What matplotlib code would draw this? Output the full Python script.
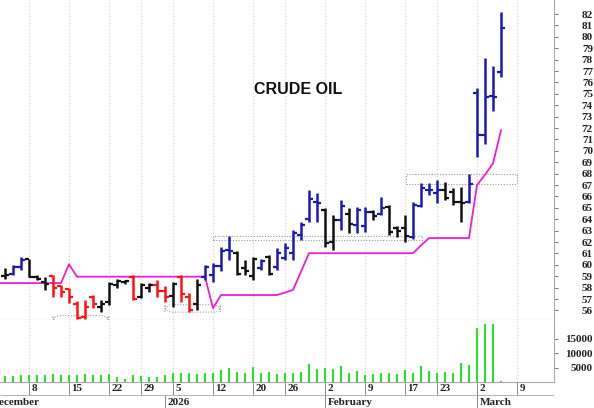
import matplotlib
matplotlib.use("Agg")
import matplotlib.pyplot as plt
import numpy as np
from matplotlib.patches import Rectangle, FancyBboxPatch

# ---------------- data (trading-day index, 0 = Mon 8 Dec 2025) ----------------
days = list(range(-4, 60))
nan = float("nan")
opens = [nan, 59.0, 59.2, 59.8, 60.5, 58.95, 58.5, 59.0, 58.1, 57.9, 56.6, 55.4, 57.2, 56.3,
         56.7, 58.2, 58.45, 58.9, 57.2, 58.0, 58.2, 57.7, 57.3, 58.9, 57.2, 56.6, 58.9, 59.1,
         59.9, 61.3, 61.0, 59.7, 59.0, 59.7, 60.7, 59.8, 60.6, 61.0, 62.6, 64.0, 65.5, 64.8,
         62.0, 63.9, 64.5, 63.5, 63.4, 64.66, 64.5, 65.1, 63.2, 63.2, 62.45, 65.15, 66.6, 66.3,
         66.55, 66.4, 65.55, 65.55, 75.1, 71.4, 74.8, 76.9]
highs = [nan, 59.7, 60.0, 60.7, 60.55, 59.1, 58.95, 59.1, 58.25, 57.95, 56.8, 56.9, 57.35, 56.9,
         58.45, 58.8, 58.7, 59.1, 58.4, 58.4, 58.65, 58.1, 58.5, 59.1, 57.5, 58.8, 60.0, 60.15,
         61.6, 62.5, 61.25, 60.4, 60.7, 60.55, 60.85, 61.45, 61.9, 63.05, 63.8, 66.6, 66.3, 64.95,
         64.35, 65.7, 64.95, 65.1, 65.1, 64.8, 65.95, 65.25, 63.4, 64.35, 65.55, 67.15, 67.15, 67.45,
         67.3, 66.7, 66.85, 68.0, 75.55, 78.15, 77.4, 82.2]
lows = [nan, 58.75, 59.1, 59.55, 58.9, 58.7, 57.8, 57.2, 57.2, 56.65, 55.22, 55.22, 56.2, 55.9,
        56.5, 57.95, 58.3, 56.9, 57.05, 57.65, 57.2, 56.75, 56.3, 56.75, 55.9, 56.05, 58.7, 58.5,
        59.5, 60.4, 59.1, 59.1, 58.7, 59.55, 59.1, 59.55, 60.4, 60.4, 62.2, 63.8, 63.8, 61.6,
        61.3, 63.05, 62.75, 62.75, 62.9, 63.93, 64.37, 62.6, 62.45, 62.0, 62.3, 65.1, 66.1, 65.4,
        65.7, 65.25, 63.8, 65.4, 69.5, 70.6, 73.45, 76.45]
closes = [nan, 59.1, 59.85, 60.4, 58.95, 58.8, 58.3, 58.0, 57.6, 57.2, 55.3, 56.3, 56.6, 56.6,
          58.3, 58.6, 58.55, 57.0, 58.25, 58.2, 57.7, 57.2, 58.3, 57.4, 56.0, 58.2, 59.8, 59.9,
          61.2, 61.2, 59.2, 59.5, 60.5, 60.3, 59.2, 61.0, 61.5, 62.8, 63.5, 65.8, 65.4, 61.95,
          63.9, 65.2, 63.6, 64.8, 64.6, 64.3, 65.0, 62.9, 63.0, 62.5, 65.25, 66.7, 66.6, 66.55,
          65.85, 65.55, 65.4, 67.1, 71.4, 74.75, 74.7, 80.75]
trend = ["k", "k", "b", "b", "k", "k", "k", "r", "r", "r", "r", "r", "r", "k",
         "k", "k", "k", "r", "k", "k", "r", "r", "k", "r", "r", "k", "b", "b",
         "b", "b", "k", "k", "k", "b", "k", "b", "b", "b", "b", "b", "b", "k",
         "k", "b", "k", "b", "b", "k", "b", "k", "k", "k", "b", "b", "b", "b",
         "k", "k", "k", "b", "b", "b", "b", "b"]
stop_line = [58.4, 58.4, 58.4, 58.4, 58.4, 58.4, 58.4, 58.4, 58.4, 60.05, 58.96, 58.96, 58.96, 58.96,
             58.96, 58.96, 58.96, 58.96, 58.96, 58.96, 58.96, 58.96, 58.96, 58.96, 58.96, 58.96, 58.96, 56.2,
             57.35, 57.35, 57.35, 57.35, 57.35, 57.35, 57.35, 57.35, 57.57, 57.8, 59.4, 61.02, 61.02, 61.02,
             61.02, 61.02, 61.02, 61.02, 61.02, 61.02, 61.02, 61.02, 61.02, 61.02, 61.02, 61.7, 62.35, 62.35,
             62.35, 62.35, 62.35, 62.35, 67.0, 67.9, 68.9, 71.8]
volume = [nan, 1950, 1950, 2300, 2300, 2300, 2530, 2870, 2300, 2300, 2300, 2870, 2530, 2300,
          2870, 1720, 1150, 2300, 1950, 1720, 1800, 2300, 3100, 3100, 3200, 2700, 3200, 3150,
          4300, 5000, 3500, 3100, 5170, 3220, 3560, 2760, 3220, 3220, 3330, 6320, 4600, 4710,
          4600, 5520, 3220, 3790, 2530, 2870, 3220, 3220, 2870, 4100, 3100, 5630, 3790, 2990,
          3450, 3100, 6550, 5750, 18600, 19900, 19900, 250]

week_starts = [0, 5, 10, 14, 18, 23, 28, 32, 37, 42, 47, 51, 56, 61]
week_labels = ["8", "15", "22", "29", "5", "12", "20", "26", "2", "9", "17", "23", "2", "9"]
month_starts = [-5, 17, 37, 56]
month_labels = ["December", "2026", "February", "March"]

# dotted range boxes: (day from, day to, price low, price high)
flat_boxes = [(23.0, 49.1, 62.15, 62.57), (47.1, 61.0, 67.08, 67.98)]
round_boxes = [(3.0, 9.9, 54.9, 55.55), (17.0, 23.9, 55.85, 56.5)]

colors = {"k": "#111111", "b": "#1a1ab4", "r": "#ff1111"}

# ---------------- layout ----------------
W, H = 594, 408
fig = plt.figure(figsize=(W / 100, H / 100), dpi=100)


def rect(x0, y0, x1, y1):
    return [x0 / W, 1 - y1 / H, (x1 - x0) / W, (y1 - y0) / H]


ax = fig.add_axes(rect(0, 0, 554, 320))
axv = fig.add_axes(rect(0, 320, 554, 382))
axd = fig.add_axes(rect(0, 382, 554, 408))

XL = (-3.625, 65.625)
serif = ["Liberation Serif", "DejaVu Serif"]
grid_c = "#cfcfcf"
spine_c = "#a8a8a8"

# ---------------- price panel ----------------
for d, o, h, l, c, t in zip(days, opens, highs, lows, closes, trend):
    if np.isnan(o):
        continue
    col = colors[t]
    ax.vlines(d, l, h, color=col, lw=1.8, capstyle="butt", zorder=4)
    ax.hlines(o, d - 0.45, d, color=col, lw=1.6, capstyle="butt", zorder=4)
    ax.hlines(c, d, d + 0.45, color=col, lw=1.6, capstyle="butt", zorder=4)

ax.plot(days, stop_line, color="#f01ed2", lw=1.3, zorder=3)

for x0, x1, lo, hi in flat_boxes:
    ax.add_patch(Rectangle((x0, lo), x1 - x0, hi - lo, fill=False, ec="#9a9a9a",
                           lw=0.8, ls=(0, (1, 1.5)), zorder=1))
for x0, x1, lo, hi in round_boxes:
    ax.add_patch(FancyBboxPatch((x0, lo), x1 - x0, hi - lo,
                                boxstyle="round,pad=0,rounding_size=0.9",
                                mutation_aspect=0.7, fill=False, ec="#a0a0a0",
                                lw=0.8, ls=(0, (1, 1.5)), zorder=1))

ax.text(298 / 554, 1 - 90 / 320, "CRUDE OIL", transform=ax.transAxes,
        ha="center", va="center", fontsize=11.5, fontweight="bold",
        family=["Liberation Sans", "DejaVu Sans"], color="#111111")

ax.set_xlim(*XL)
ax.set_ylim(55.16, 83.23)
ax.set_yticks(list(range(56, 83)))

# ---------------- volume panel ----------------
axv.bar(days, volume, width=0.3, color="#22e622", zorder=2)
axv.set_xlim(*XL)
axv.set_ylim(0, 21380)
axv.set_yticks([5000, 10000, 15000])

# ---------------- shared styling ----------------
for a in (ax, axv):
    a.set_xticks(week_starts)
    a.tick_params(axis="x", length=0, labelbottom=False)
    a.grid(axis="x", color=grid_c, ls=(0, (1, 2)), lw=0.8)
    a.set_axisbelow(True)
    a.yaxis.tick_right()
    a.tick_params(axis="y", direction="out", length=3, width=0.7, color="#777777",
                  pad=25, labelsize=8, labelcolor="#222222")
    for tk in a.yaxis.get_major_ticks():
        tk.label2.set_horizontalalignment("right")
        tk.label2.set_fontfamily(serif)
        tk.label2.set_fontweight("bold")
    for s in ("top", "left"):
        a.spines[s].set_visible(False)
    a.spines["right"].set_color(spine_c)
    a.spines["bottom"].set_color(spine_c)
    a.spines["right"].set_linewidth(0.8)
    a.spines["bottom"].set_linewidth(0.8)

# ---------------- date strip ----------------
axd.set_xlim(*XL)
axd.set_ylim(0, 26)
axd.axis("off")
axd.vlines(week_starts, 13, 26, color="#888888", lw=0.7)
axd.hlines(13, XL[0], XL[1], color="#b0b0b0", lw=0.7)
axd.vlines(month_starts, 0, 13, color="#888888", lw=0.7)
for w, lab in zip(week_starts, week_labels):
    axd.text(w + 0.3, 19.3, lab, ha="left", va="center", fontsize=8,
             family=serif, fontweight="bold", color="#222222", clip_on=True)
for m, lab in zip(month_starts, month_labels):
    axd.text(m + 0.3, 5.2, lab, ha="left", va="center", fontsize=8,
             family=serif, fontweight="bold", color="#222222")

fig.savefig("out.png", dpi=100)
